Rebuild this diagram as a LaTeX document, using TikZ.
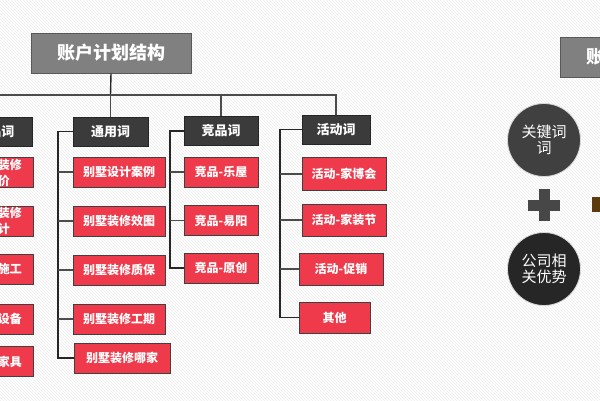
\documentclass[tikz,border=0pt]{standalone}
\usepackage{fontspec}
\setmainfont{Noto Sans CJK SC}
\usepackage{tikz}
\usetikzlibrary{positioning, patterns, calc}

\definecolor{itemred}{RGB}{238,58,74}
\definecolor{titlegray}{RGB}{128,128,128}
\definecolor{catgray}{RGB}{59,59,59}
\definecolor{plusbrown}{RGB}{92,58,14}

\tikzset{
	titlebox/.style={draw=black!65, line width=1pt, fill=titlegray, text=white, font=\fontsize{18}{20}\selectfont\bfseries, minimum width=160, minimum height=40, inner sep=0},
	catbox/.style={draw=black!85, line width=0.8pt, fill=catgray, text=white, font=\fontsize{13}{15}\selectfont\bfseries, minimum height=29, inner sep=0},
	itembox/.style={draw=black!75, line width=0.8pt, fill=itemred, text=white, font=\fontsize{12}{16}\selectfont\bfseries, minimum height=30, inner sep=0, align=center},
	bubble/.style={circle, draw=black!15, line width=0.8pt, text=white, font=\fontsize{15}{16}\selectfont, minimum size=73, inner sep=0, align=center},
	link/.style={draw=black!70, line width=1.1pt},
}

\begin{document}
\begin{tikzpicture}[x=1pt, y=-1pt]
	\useasboundingbox (0,0) rectangle (600,400);
	\clip (0,0) rectangle (600,400);
	\fill[white] (0,0) rectangle (600,400);
	\fill[pattern=north west lines, pattern color=black!7] (0,0) rectangle (600,400);
	
	\node(title)  [titlebox] at (111,53)  {账户计划结构};
	\node(titleb) [titlebox] at (640,57)  {账户计划结构};
	
	\node(cp) [catbox, minimum width=74] at (-5,131.5)  {产品词};
	\node(ty) [catbox, minimum width=75] at (110.5,131.5) {通用词};
	\node(jp) [catbox, minimum width=74] at (221,131)   {竞品词};
	\node(hd) [catbox, minimum width=68] at (336,129.5) {活动词};
	
	\node(cp1) [itembox, minimum width=70] at (-2,172.5) {别墅装修\\报价};
	\node(cp2) [itembox, minimum width=70] at (-2,221)   {别墅装修\\设计};
	\node(cp3) [itembox, minimum width=70] at (-2,269)   {别墅施工};
	\node(cp4) [itembox, minimum width=70] at (-2,319)   {别墅设备};
	\node(cp5) [itembox, minimum width=70] at (-2,361.5) {别墅家具};
	
	\node(ty1) [itembox, minimum width=92] at (119,172) {别墅设计案例};
	\node(ty2) [itembox, minimum width=92] at (119,221) {别墅装修效图};
	\node(ty3) [itembox, minimum width=92] at (119,270) {别墅装修质保};
	\node(ty4) [itembox, minimum width=92] at (119,319) {别墅装修工期};
	\node(ty5) [itembox, minimum width=96] at (122,358) {别墅装修哪家};
	
	\node(jp1) [itembox, minimum width=74] at (221,172)   {竞品-乐屋};
	\node(jp2) [itembox, minimum width=74] at (221,220.5) {竞品-易阳};
	\node(jp3) [itembox, minimum width=74] at (221,268)   {竞品-原创};
	
	\node(hd1) [itembox, minimum width=84, minimum height=33] at (344,174)   {活动-家博会};
	\node(hd2) [itembox, minimum width=84, minimum height=32] at (344,220)   {活动-家装节};
	\node(hd3) [itembox, minimum width=84, minimum height=32] at (341,269)   {活动-促销};
	\node(hd4) [itembox, minimum width=71, minimum height=31] at (334.5,317.5) {其他};
	
	\coordinate(bus) at (110.5,95);
	\coordinate(cpspine) at (-53,0);
	\coordinate(tyspine) at (58,0);
	\coordinate(jpspine) at (170,0);
	\coordinate(hdspine) at (280,0);
	
	\draw[link, black!85, line width=1.4pt] (title.south) -- (bus);
	\draw[link] (cp.north) |- (bus) -| (hd.north);
	\draw[link] (ty.north) -- (ty.north |- bus);
	\draw[link] (jp.north) -- (jp.north |- bus);
	
	\draw[link, black!85] (cp.west) -- (cp.west -| cpspine) |- (cp5.west);
	\draw[link, black!85] (ty.west) -- (ty.west -| tyspine) |- (ty5.west);
	\draw[link, black!85] (jp.west) -- (jp.west -| jpspine) |- (jp3.west);
	\draw[link, black!85] (hd.west) -- (hd.west -| hdspine) |- (hd4.west);
	\foreach \i in {1,...,4} {
		\draw[link] (cp\i.west) -- (cp\i.west -| cpspine);
		\draw[link] (ty\i.west) -- (ty\i.west -| tyspine);
	}
	\foreach \i in {1,2} \draw[link] (jp\i.west) -- (jp\i.west -| jpspine);
	\foreach \i in {1,2,3} \draw[link] (hd\i.west) -- (hd\i.west -| hdspine);
	
	\node(kw)  [bubble, fill=black!75] at (544,140) {关键词\\词};
	\node(adv) [bubble, fill=black!85] at (544,269) {公司相\\关优势};
	
	% plus sign
	\fill[black!72] (528,199.5) rectangle (560,210.5);
	\fill[black!72] (538.5,189) rectangle (549.5,221);
	\fill[plusbrown] (592,197) rectangle (612,212);
\end{tikzpicture}
\end{document}
